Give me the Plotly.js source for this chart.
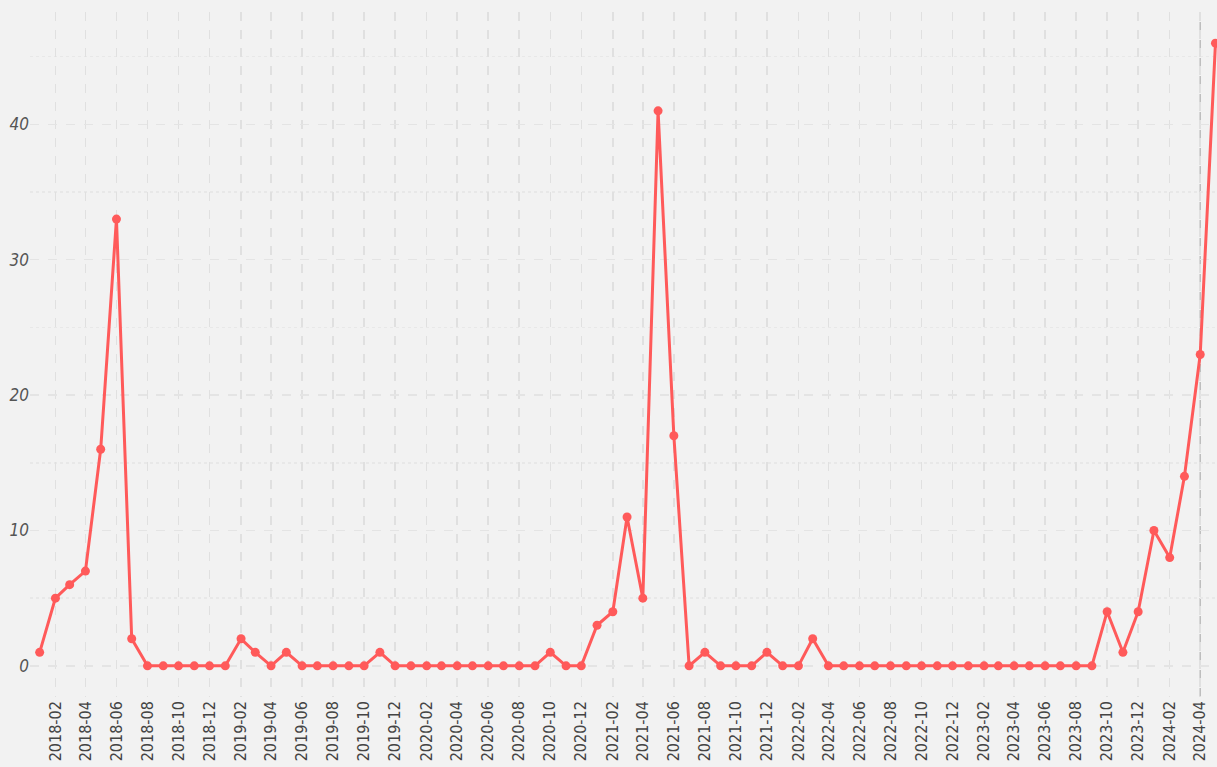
<!DOCTYPE html>
<html>
<head>
<meta charset="utf-8">
<script src="https://cdn.plot.ly/plotly-3.0.1.min.js"></script>
<style>
html,body{margin:0;padding:0;background:#f2f2f2;}
#chart{width:1217px;height:767px;}
</style>
</head>
<body>
<div id="chart"></div>
<script>
// Monthly values, 2018-01 .. 2024-05
const months = [
  "2018-01","2018-02","2018-03","2018-04","2018-05","2018-06","2018-07","2018-08","2018-09","2018-10","2018-11","2018-12",
  "2019-01","2019-02","2019-03","2019-04","2019-05","2019-06","2019-07","2019-08","2019-09","2019-10","2019-11","2019-12",
  "2020-01","2020-02","2020-03","2020-04","2020-05","2020-06","2020-07","2020-08","2020-09","2020-10","2020-11","2020-12",
  "2021-01","2021-02","2021-03","2021-04","2021-05","2021-06","2021-07","2021-08","2021-09","2021-10","2021-11","2021-12",
  "2022-01","2022-02","2022-03","2022-04","2022-05","2022-06","2022-07","2022-08","2022-09","2022-10","2022-11","2022-12",
  "2023-01","2023-02","2023-03","2023-04","2023-05","2023-06","2023-07","2023-08","2023-09","2023-10","2023-11","2023-12",
  "2024-01","2024-02","2024-03","2024-04","2024-05"
];
const counts = [
  1,5,6,7,16,33,2,0,0,0,0,0,
  0,2,1,0,1,0,0,0,0,0,1,0,
  0,0,0,0,0,0,0,0,0,1,0,0,
  3,4,11,5,41,17,0,1,0,0,0,1,
  0,0,2,0,0,0,0,0,0,0,0,0,
  0,0,0,0,0,0,0,0,0,4,1,4,
  10,8,14,23,46
];
const markerMonth = "2024-04";

const trace = {
  x: months.map(m => m + "-01"),
  y: counts,
  type: "scatter",
  mode: "lines+markers",
  line: {color: "#ff5a5a", width: 3},
  marker: {color: "#ff5a5a", size: 9},
  hoverinfo: "x+y"
};

const layout = {
  width: 1217, height: 767,
  paper_bgcolor: "#f2f2f2",
  plot_bgcolor: "#f2f2f2",
  margin: {l: 30, r: 0, t: 12, b: 70},
  showlegend: false,
  xaxis: {
    type: "date",
    range: ["2017-12-13", "2024-05-04"],
    tick0: "2018-02-01",
    dtick: "M2",
    tickformat: "%Y-%m",
    tickangle: -90,
    showgrid: true,
    gridcolor: "#e0e0e0",
    griddash: "dash",
    gridwidth: 1.5,
    zeroline: false,
    showline: false,
    ticks: "",
    automargin: false,
    tickfont: {family: "Liberation Sans Narrow, DejaVu Sans Condensed, Roboto, sans-serif", size: 16, color: "#444"}
  },
  yaxis: {
    range: [-2.3, 48.3],
    dtick: 10,
    tick0: 0,
    showgrid: true,
    gridcolor: "#e4e4e4",
    griddash: "dash",
    gridwidth: 1.5,
    minor: {dtick: 5, showgrid: true, gridcolor: "#e8e8e8", griddash: "dot", gridwidth: 1.5},
    zeroline: false,
    showline: false,
    ticks: "",
    automargin: false,
    tickfont: {family: "Liberation Sans Narrow, DejaVu Sans Condensed, sans-serif", size: 17, color: "#555", style: "italic"}
  },
  shapes: [{
    type: "line", xref: "x", yref: "paper",
    x0: markerMonth + "-01", x1: markerMonth + "-01", y0: 0, y1: 1,
    line: {color: "#bdbdbd", width: 1.5, dash: "dash"},
    layer: "below"
  }]
};

Plotly.newPlot("chart", [trace], layout, {displayModeBar: false, staticPlot: true});
</script>
</body>
</html>
